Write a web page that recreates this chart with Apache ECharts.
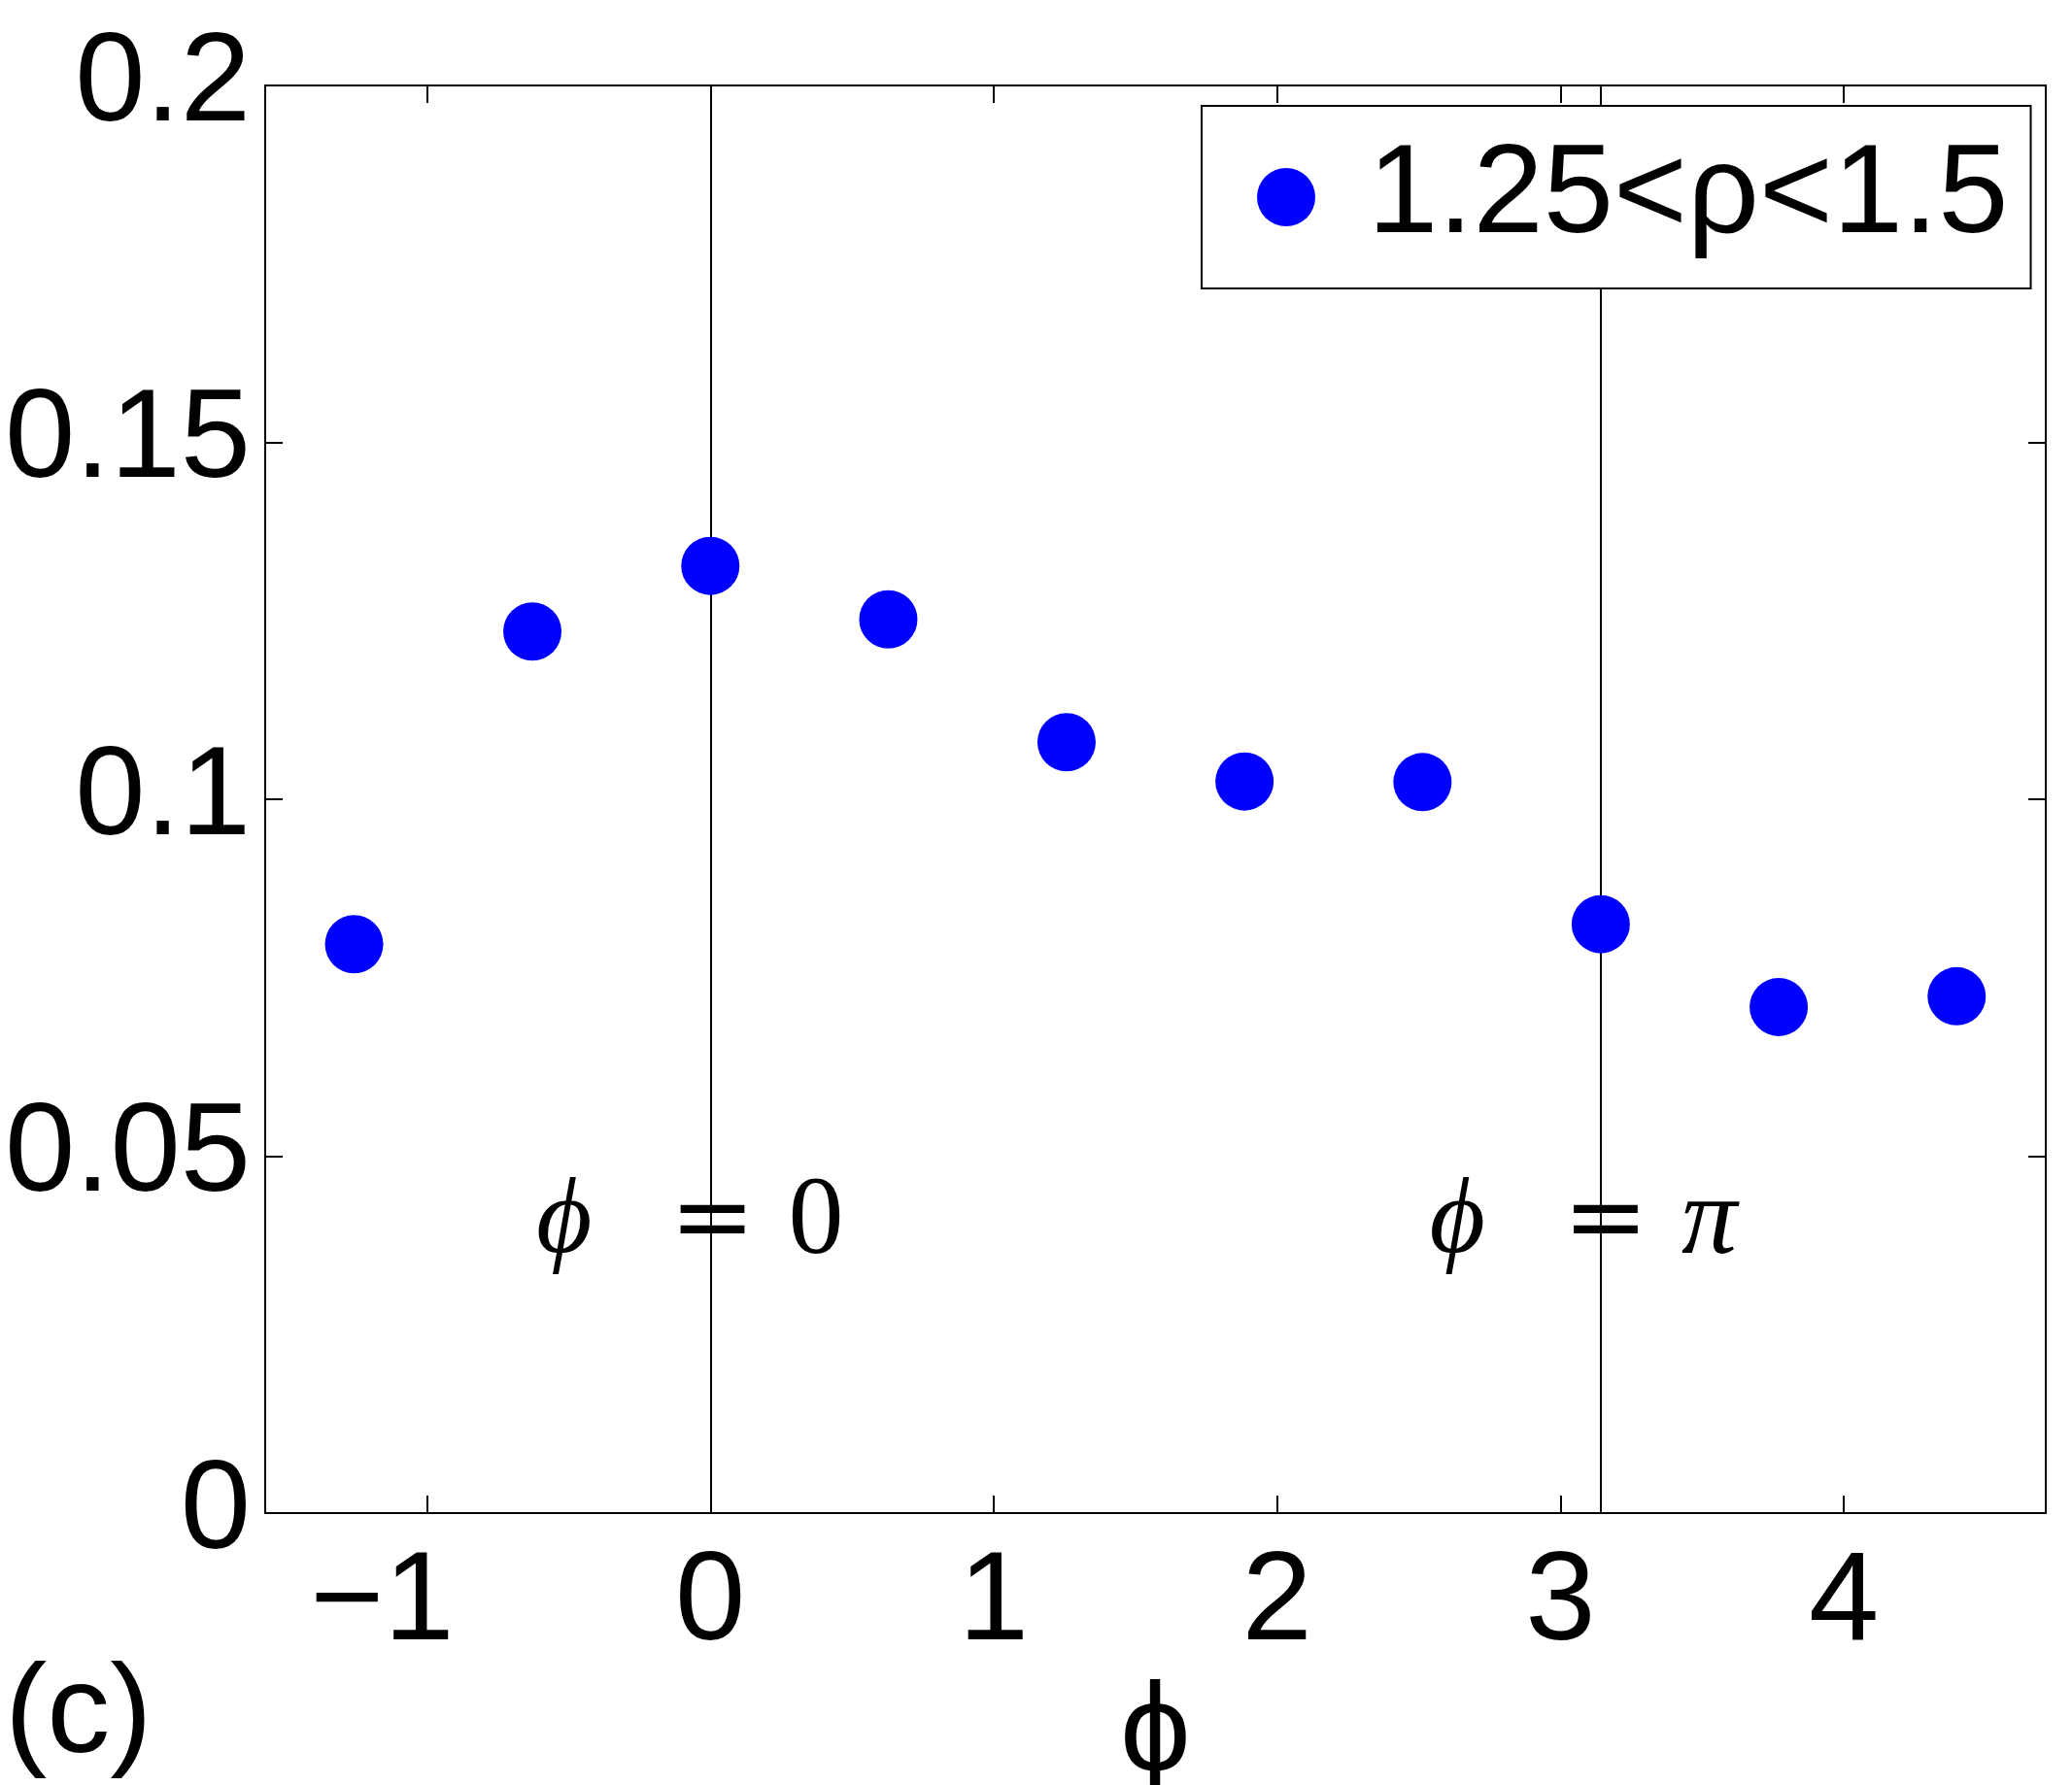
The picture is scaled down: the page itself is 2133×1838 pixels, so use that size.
<!DOCTYPE html>
<html>
<head>
<meta charset="utf-8">
<title>phi scatter</title>
<script src="https://cdn.jsdelivr.net/npm/echarts@6/dist/echarts.min.js"></script>
<style>
  html, body { margin: 0; padding: 0; background: #fff; }
  #chart { width: 2133px; height: 1838px; }
</style>
</head>
<body>
<div id="chart"></div>
<script>
// values
const phiValues = [-1.257, -0.628, 0, 0.628, 1.257, 1.885, 2.513, 3.142, 3.770, 4.398]
const fracValues = [0.0797, 0.1235, 0.1327, 0.1252, 0.1080, 0.1025, 0.1024, 0.0825, 0.0709, 0.0724]
const xTicks = [-1, 0, 1, 2, 3, 4]
const refLines = [0, 3.1416]
const seriesName = "1.25<ρ<1.5"

const sans = "Liberation Sans"
const serif = "Liberation Serif"

const chart = echarts.init(document.getElementById("chart"))

const axisLine = { show: true, onZero: false, lineStyle: { color: "#000", width: 2 } }
const tick = { inside: true, length: 18, lineStyle: { color: "#000", width: 2 } }

const annot = (x, rhs, dx) => ({
  coord: [x, 0.0405],
  symbol: "circle",
  symbolSize: 0,
  label: {
    show: true,
    position: "inside",
    offset: [dx, 0],
    formatter: "{i|ϕ}{e|=}{r|" + rhs + "}",
    rich: {
      i: { fontFamily: serif, fontStyle: "italic", fontSize: 111, color: "#000", padding: [0, 80, 0, 0] },
      e: { fontFamily: "DejaVu Serif", fontSize: 105, color: "#000", padding: [0, 34, 0, 0] },
      r: { fontFamily: serif, fontStyle: rhs === "π" ? "italic" : "normal", fontSize: 114, color: "#000" }
    }
  }
})

chart.setOption({
  backgroundColor: "#fff",
  animation: false,
  grid: { left: 273, top: 88, width: 1833, height: 1470, containLabel: false, outerBoundsMode: "none" },
  legend: {
    z: 20,
    left: 1237,
    top: 109,
    icon: "circle",
    itemWidth: 158,
    itemHeight: 60,
    padding: [29, 23, 29, 57],
    borderColor: "#000",
    borderWidth: 2,
    backgroundColor: "#fff",
    textStyle: { fontFamily: sans, fontSize: 130, color: "#000", padding: [36, 0, 0, 0] },
    data: [seriesName]
  },
  xAxis: [
    {
      type: "value",
      min: -1.5708,
      max: 4.7124,
      name: "ϕ",
      nameLocation: "middle",
      nameGap: 96,
      nameTextStyle: { fontFamily: sans, fontSize: 130, color: "#000" },
      axisLine,
      axisTick: { ...tick, customValues: xTicks },
      axisLabel: {
        customValues: xTicks,
        margin: 29,
        fontFamily: sans,
        fontSize: 130,
        color: "#000",
        formatter: v => (v < 0 ? "{n|" + String(v).replace("-", "−") + "}" : String(v)),
        rich: {
          n: { fontFamily: sans, fontSize: 130, color: "#000", padding: [0, 92, 0, 0] }
        }
      },
      splitLine: { show: false }
    },
    {
      type: "value",
      position: "top",
      min: -1.5708,
      max: 4.7124,
      axisLine,
      axisTick: { ...tick, customValues: xTicks },
      axisLabel: { show: false },
      splitLine: { show: false }
    }
  ],
  yAxis: [
    {
      type: "value",
      min: 0,
      max: 0.2,
      interval: 0.05,
      axisLine,
      axisTick: tick,
      axisLabel: {
        margin: 15,
        fontFamily: sans,
        fontSize: 130,
        color: "#000",
        formatter: v => String(+v.toFixed(2))
      },
      splitLine: { show: false }
    },
    {
      type: "value",
      position: "right",
      min: 0,
      max: 0.2,
      interval: 0.05,
      axisLine,
      axisTick: tick,
      axisLabel: { show: false },
      splitLine: { show: false }
    }
  ],
  graphic: [
    {
      type: "text",
      left: 5,
      top: 1703,
      style: { text: "(c)", fontFamily: sans, fontSize: 130, fill: "#000" }
    }
  ],
  series: [
    {
      name: seriesName,
      type: "scatter",
      symbol: "circle",
      symbolSize: 60,
      itemStyle: { color: "#0000ff", opacity: 1 },
      data: phiValues.map((x, i) => [x, fracValues[i]]),
      z: 3,
      markLine: {
        silent: true,
        z: 1,
        symbol: "none",
        label: { show: false },
        lineStyle: { color: "#000", width: 2, type: "solid" },
        data: refLines.map(x => ({ xAxis: x }))
      },
      markPoint: {
        silent: true,
        data: [annot(0, "0", -21), annot(3.1416, "π", -18)]
      }
    }
  ]
})

window.addEventListener("resize", () => chart.resize())
</script>
</body>
</html>
